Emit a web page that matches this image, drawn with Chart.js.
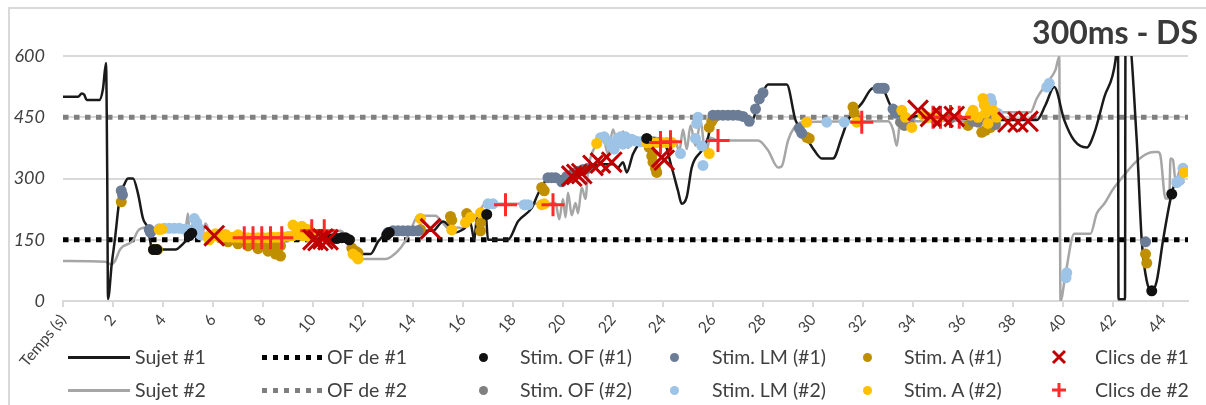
<!DOCTYPE html>
<html lang="fr">
<head>
<meta charset="utf-8">
<title>300ms - DS</title>
<script src="https://cdn.jsdelivr.net/npm/chart.js@4.4.1/dist/chart.umd.min.js"></script>
<style>
  html, body { margin: 0; padding: 0; background: #fff; }
  body { width: 1206px; height: 405px; position: relative; overflow: hidden; font-family: Lato, 'Noto Sans', sans-serif; color: #404040; }
  #cadre { position: absolute; left: 8px; top: 7px; width: 1400px; height: 600px; border-left: 2px solid #d9d9d9; border-top: 2px solid #d9d9d9; }
  #graphique { position: absolute; left: 0; top: 0; }
  #titre { position: absolute; right: 8px; top: 16px; font-size: 32px; font-weight: bold; color: #3a3a3a; line-height: 1; }
  .legTexte { position: absolute; font-size: 19.5px; line-height: 22px; white-space: nowrap; color: #404040; }
  .legEch { position: absolute; }
</style>
</head>
<body>
<div id="cadre"></div>
<canvas id="graphique" width="1206" height="405"></canvas>
<div id="titre">300ms - DS</div>
<div id="legende"></div>
<script>
//Courbes des sujets [temps (s), valeur]
const sujet1 = [[0,500],[0.6,500],[0.75,508],[0.85,505],[0.95,492],[1.45,492],[1.6,520],[1.72,583],[1.77,300],[1.8,5],[1.95,91],[2.07,148],[2.27,253],[2.47,288],[2.6,300],[2.8,300],[3.0,263],[3.2,202],[3.4,177],[3.55,130],[3.65,126],[4.5,126],[4.8,140],[5.1,160],[5.2,166],[5.5,160],[6.0,158],[6.5,155],[7.0,150],[8.0,145],[8.6,140],[9.0,150],[10.0,152],[11.0,152],[11.4,150],[11.7,130],[12.0,115],[12.3,115],[12.6,145],[12.9,165],[13.1,172],[14.3,172],[14.8,172],[15.2,195],[15.5,180],[15.7,168],[16.0,175],[16.3,190],[16.45,150],[16.55,200],[16.75,210],[16.9,220],[17.0,150],[17.8,150],[18.2,195],[18.75,228],[19.0,262],[19.4,300],[20.0,305],[20.5,312],[21.0,325],[21.5,335],[22.0,335],[22.2,327],[22.4,340],[22.55,315],[22.8,360],[23.3,398],[23.5,400],[24.0,395],[24.35,327],[24.6,270],[24.75,238],[24.95,255],[25.15,327],[25.55,369],[25.8,400],[26.0,450],[27.3,450],[27.55,440],[27.8,484],[28.0,512],[28.2,530],[28.95,530],[29.3,443],[29.55,418],[29.8,393],[30.05,369],[30.35,349],[30.8,349],[31.15,401],[31.4,443],[31.95,484],[32.4,521],[32.75,521],[33.1,479],[33.35,462],[33.7,450],[34.5,455],[35.5,450],[36.5,445],[37.3,443],[38.95,443],[39.3,480],[39.65,524],[40.05,443],[40.45,393],[40.95,376],[41.25,411],[41.65,499],[42.1,590],[42.2,660],[42.22,4],[42.48,4],[42.5,660],[42.6,660],[42.95,393],[43.15,148],[43.35,49],[43.55,25],[43.75,49],[44.0,148],[44.35,263],[44.55,295],[44.85,290]];
const sujet2 = [[0,98],[1.7,96],[1.9,90],[2.05,95],[2.3,128],[2.8,148],[3.0,172],[3.3,180],[3.6,178],[4.9,178],[5.0,214],[5.05,170],[5.2,190],[5.3,210],[5.45,180],[5.6,172],[5.7,190],[5.9,165],[6.5,160],[8.0,158],[9.5,162],[10.5,170],[11.1,172],[11.3,160],[11.6,115],[12.0,103],[12.9,103],[13.4,123],[13.7,148],[13.95,180],[14.2,209],[14.9,209],[15.2,190],[15.5,175],[15.8,180],[16.0,178],[16.3,195],[16.6,215],[16.9,238],[19.2,238],[19.7,240],[19.85,200],[20.0,250],[20.1,205],[20.2,265],[20.35,210],[20.5,240],[20.6,215],[20.75,278],[20.9,250],[21.0,320],[21.3,380],[21.6,400],[21.8,360],[22.0,420],[22.2,380],[22.4,415],[22.6,375],[22.8,400],[23.3,395],[24.5,392],[24.65,365],[24.8,420],[24.95,372],[25.1,430],[25.3,380],[25.5,440],[25.7,360],[25.9,400],[26.2,393],[27.8,393],[28.2,369],[28.6,327],[28.75,330],[29.0,393],[29.25,425],[29.55,438],[33.0,440],[33.2,420],[33.35,380],[33.5,445],[33.7,430],[34.0,440],[37.3,445],[37.4,462],[38.7,462],[38.95,496],[39.35,533],[39.7,566],[39.85,598],[39.9,0],[40.1,66],[40.45,165],[41.1,165],[41.35,214],[41.65,238],[42.05,278],[43.65,365],[43.8,365],[43.9,355],[44.1,251],[44.25,251],[44.3,349],[44.4,345],[44.5,295],[44.7,327]];
//Seuils OF
const seuilOF1 = 150;
const seuilOF2 = 450;
//Stimulations
const stimOF1 = [[3.62,126],[3.75,126],[5.05,160],[5.15,166],[10.75,152],[10.95,153],[11.15,155],[11.3,155],[11.45,150],[12.95,162],[13.05,168],[16.95,212],[23.35,398],[43.55,25],[44.35,262]];
const stimOF2 = [[33.5,438],[33.65,430],[33.8,440],[34.9,445],[35.5,448],[36.4,440],[36.6,438],[36.9,445],[37.1,436],[37.3,432]];
const stimLM1 = [[2.33,270],[2.38,260],[3.45,175],[3.5,168],[13.0,168],[13.2,172],[13.4,172],[13.6,172],[13.8,172],[14.0,172],[14.2,172],[19.4,302],[19.55,302],[19.7,302],[19.95,292],[20.15,305],[20.4,312],[20.6,318],[20.8,322],[21.0,325],[26.0,455],[26.2,455],[26.4,455],[26.6,455],[26.8,455],[27.0,455],[27.2,452],[27.45,440],[27.7,470],[27.85,495],[28.0,510],[29.45,423],[29.55,411],[32.6,521],[32.75,521],[32.85,521],[33.2,470],[33.3,460],[43.3,145]];
const stimLM2 = [[3.85,177],[4.05,178],[4.25,178],[4.45,178],[4.65,178],[4.85,176],[5.0,175],[5.25,202],[5.35,192],[5.4,180],[5.5,162],[17.0,238],[17.2,238],[18.45,236],[18.6,236],[21.5,400],[21.65,402],[21.8,392],[21.95,380],[22.05,372],[22.2,398],[22.3,402],[22.4,384],[22.5,402],[22.6,388],[22.75,396],[22.9,392],[23.1,390],[24.7,361],[25.3,398],[25.35,435],[25.4,450],[25.55,380],[25.6,332],[30.55,438],[31.25,438],[37.1,496],[37.15,485],[37.4,459],[39.35,524],[39.45,533],[40.15,69],[40.12,57],[44.55,290],[44.65,295],[44.8,325]];
const stimA1 = [[2.33,243],[3.62,126],[3.78,126],[6.3,155],[6.5,153],[6.7,151],[6.9,150],[7.1,148],[7.3,147],[7.5,146],[7.7,145],[7.9,143],[8.1,141],[8.3,139],[8.5,137],[8.7,135],[6.6,145],[7.0,140],[7.4,135],[7.8,128],[8.2,122],[8.5,115],[8.7,110],[11.55,130],[11.7,122],[11.8,118],[14.3,175],[15.5,207],[15.55,198],[16.15,214],[16.2,205],[16.7,192],[16.7,172],[19.15,278],[19.25,270],[23.45,376],[23.55,355],[23.6,340],[23.7,325],[23.75,315],[25.85,425],[25.95,440],[26.05,450],[29.75,401],[29.85,398],[31.6,475],[31.65,460],[33.85,435],[36.2,430],[36.75,413],[36.9,418],[37.1,425],[43.3,115],[43.35,93]];
const stimA2 = [[3.85,175],[3.95,176],[5.8,158],[6.0,160],[6.2,158],[6.4,157],[6.6,157],[6.8,156],[7.0,156],[7.2,155],[7.4,155],[7.6,155],[7.8,155],[8.0,155],[8.2,155],[8.4,156],[8.6,156],[8.8,157],[9.0,158],[9.2,160],[9.4,162],[9.6,160],[9.8,158],[10.0,162],[6.1,165],[6.5,163],[7.0,162],[9.2,186],[9.35,178],[9.55,183],[9.75,176],[9.9,170],[5.85,150],[11.6,115],[11.75,108],[11.8,103],[14.3,202],[15.55,174],[16.1,192],[16.3,205],[16.7,216],[19.15,236],[19.25,238],[21.35,386],[23.35,388],[23.55,388],[23.75,388],[23.95,388],[24.15,388],[24.35,388],[25.85,361],[29.75,438],[31.75,438],[33.55,467],[33.7,450],[33.95,425],[34.4,455],[34.6,450],[35.0,448],[36.3,455],[36.4,467],[36.6,450],[36.8,496],[36.85,480],[36.9,460],[37.0,435],[37.2,467],[37.35,450],[44.85,315]];
//Clics
const clics1 = [[6.05,160],[10.0,150],[10.2,148],[10.4,152],[10.6,150],[14.7,177],[20.35,306],[20.55,310],[20.75,312],[21.2,332],[21.5,338],[21.95,340],[23.95,352],[24.05,345],[34.2,467],[34.7,452],[35.2,450],[35.65,452],[37.8,438],[38.2,438],[38.6,440]];
const clics2 = [[7.25,155],[7.6,155],[7.95,155],[8.3,155],[8.75,155],[9.95,172],[10.45,172],[17.7,236],[19.6,236],[23.9,388],[24.3,390],[26.2,393],[31.95,438],[34.8,450],[35.1,450],[35.5,452],[35.85,450]];
//Axes
const tempsMax = 45;
const pasTemps = 2;
const premierLabel = 'Temps (s)';
const graduationsY = [0, 150, 300, 450, 600];

const pts = arr => arr.map(p => ({ x: p[0], y: p[1] }));

const couleurs = {
  sujet1: '#1a1a1a', sujet2: '#a6a6a6', of1: '#000000', of2: '#7f7f7f',
  stimOF1: '#111111', stimOF2: '#808080', lm1: '#6b7c96', lm2: '#9dc3e6',
  a1: '#bf8f00', a2: '#ffc000', clic1: '#c00000', clic2: '#ff2b2b'
};

function ligne(label, data, color, order) {
  return { label, data: pts(data), showLine: true, borderColor: color, borderWidth: 2.5, pointRadius: 0,
    cubicInterpolationMode: 'monotone', order };
}
function seuil(label, v, color) {
  return { label, data: [{ x: 0, y: v }, { x: tempsMax, y: v }], showLine: true, borderColor: color,
    borderWidth: 5, borderDash: [5.5, 5.5], borderCapStyle: 'butt', pointRadius: 0, order: 6 };
}
function points(label, data, color, order) {
  return { label, data: pts(data), showLine: false, pointStyle: 'circle', pointRadius: 5.5,
    backgroundColor: color, borderColor: color, borderWidth: 0, order };
}
function clics(label, data, color, style, r) {
  return { label, data: pts(data), showLine: false, pointStyle: style, pointRadius: r,
    borderColor: color, backgroundColor: color, pointBorderWidth: 3, order: 0 };
}

new Chart(document.getElementById('graphique'), {
  type: 'scatter',
  data: {
    datasets: [
      ligne('Sujet #1', sujet1, couleurs.sujet1, 5),
      ligne('Sujet #2', sujet2, couleurs.sujet2, 5),
      seuil('OF de #1', seuilOF1, couleurs.of1),
      seuil('OF de #2', seuilOF2, couleurs.of2),
      points('Stim. OF (#1)', stimOF1, couleurs.stimOF1, 1),
      points('Stim. OF (#2)', stimOF2, couleurs.stimOF2, 3),
      points('Stim. LM (#1)', stimLM1, couleurs.lm1, 4),
      points('Stim. LM (#2)', stimLM2, couleurs.lm2, 3),
      points('Stim. A (#1)', stimA1, couleurs.a1, 4),
      points('Stim. A (#2)', stimA2, couleurs.a2, 2),
      clics('Clics de #1', clics1, couleurs.clic1, 'crossRot', 14),
      clics('Clics de #2', clics2, couleurs.clic2, 'cross', 11.5)
    ]
  },
  options: {
    responsive: false,
    animation: false,
    events: [],
    layout: { padding: { top: 56, right: 18, left: 0, bottom: 0 } },
    plugins: { legend: { display: false }, tooltip: { enabled: false } },
    scales: {
      x: {
        type: 'linear', min: 0, max: tempsMax,
        ticks: {
          stepSize: pasTemps, includeBounds: false, autoSkip: false,
          minRotation: 50, maxRotation: 50, padding: 4, color: '#404040',
          font: { family: 'Lato', size: 15.5 },
          callback: v => v === 0 ? premierLabel : v
        },
        grid: { drawOnChartArea: false, drawTicks: true, tickLength: 6, color: '#d9d9d9', lineWidth: 2 },
        border: { color: '#d9d9d9', width: 2 },
        afterFit: s => { s.height = 104; }
      },
      y: {
        min: graduationsY[0], max: graduationsY[graduationsY.length - 1],
        afterBuildTicks: s => { s.ticks = graduationsY.map(v => ({ value: v })); },
        ticks: { padding: 18, color: '#404040', font: { family: 'Lato', size: 18, style: 'italic' } },
        grid: { color: '#d9d9d9', lineWidth: 2, drawTicks: false },
        border: { display: false },
        afterFit: s => { s.width = 63; }
      }
    }
  }
});

//Legende en deux lignes
const legende = document.getElementById('legende');
const xEch = [68, 262, 483, 674, 867, 1059];
const xTexte = [135, 327, 520, 712, 904, 1095];
const yLigne = [357, 390];
const entrees = [
  [['ligne', couleurs.sujet1, 'Sujet #1'], ['pointille', couleurs.of1, 'OF de #1'], ['rond', couleurs.stimOF1, 'Stim. OF (#1)'],
   ['rond', couleurs.lm1, 'Stim. LM (#1)'], ['rond', couleurs.a1, 'Stim. A (#1)'], ['x', couleurs.clic1, 'Clics de #1']],
  [['ligne', couleurs.sujet2, 'Sujet #2'], ['pointille', couleurs.of2, 'OF de #2'], ['rond', couleurs.stimOF2, 'Stim. OF (#2)'],
   ['rond', couleurs.lm2, 'Stim. LM (#2)'], ['rond', couleurs.a2, 'Stim. A (#2)'], ['plus', couleurs.clic2, 'Clics de #2']]
];
entrees.forEach((rangee, r) => {
  rangee.forEach((e, c) => {
    const [type, col, txt] = e;
    const y = yLigne[r];
    const ech = document.createElement('div');
    ech.className = 'legEch';
    if (type === 'ligne') {
      Object.assign(ech.style, { left: xEch[c] + 'px', top: (y - 1.5) + 'px', width: '62px', height: '3px', background: col });
    } else if (type === 'pointille') {
      Object.assign(ech.style, { left: xEch[c] + 'px', top: (y - 2.5) + 'px', width: '60px', height: '5px',
        background: 'repeating-linear-gradient(to right,' + col + ' 0 5.5px, transparent 5.5px 11px)' });
    } else if (type === 'rond') {
      Object.assign(ech.style, { left: (xEch[c] - 4.5) + 'px', top: (y - 4.5) + 'px', width: '9px', height: '9px', borderRadius: '50%', background: col });
    } else {
      const d = type === 'x' ? 'M2 2L14 14M14 2L2 14' : 'M8 1V15M1 8H15';
      ech.innerHTML = '<svg width="16" height="16"><path d="' + d + '" stroke="' + col + '" stroke-width="3" fill="none"/></svg>';
      Object.assign(ech.style, { left: (xEch[c] - 8) + 'px', top: (y - 8) + 'px', width: '16px', height: '16px' });
    }
    legende.appendChild(ech);
    const t = document.createElement('div');
    t.className = 'legTexte';
    t.textContent = txt;
    Object.assign(t.style, { left: xTexte[c] + 'px', top: (y - 11) + 'px' });
    legende.appendChild(t);
  });
});
</script>
</body>
</html>
